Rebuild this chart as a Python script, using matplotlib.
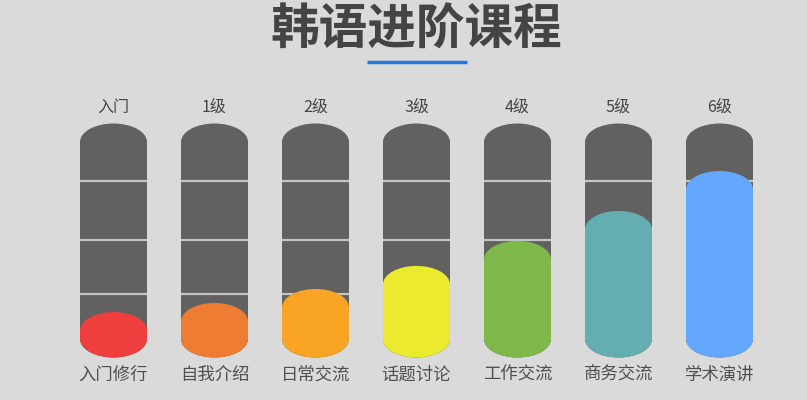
import matplotlib
matplotlib.use("Agg")
import matplotlib.pyplot as plt
from matplotlib.patches import Ellipse

plt.rcParams['font.family'] = ['Noto Sans CJK SC', 'DejaVu Sans']

# ---- data ----
levels = ["入门", "1级", "2级", "3级", "4级", "5级", "6级"]
courses = ["入门修行", "自我介绍", "日常交流", "话题讨论", "工作交流", "商务交流", "学术演讲"]
progress = [4.3, 8.9, 16.0, 27.7, 40.4, 55.6, 75.9]   # percent of tube height
colors = ["#ee3e3e", "#ee7d33", "#f9a423", "#ebea2f", "#7eb84b", "#64aeb2", "#63a7fe"]
title = "韩语进阶课程"
tube_max = 100
dividers = [22.8, 50.3, 80.2]

BG = "#dadada"
TUBE = "#616161"

W, H = 807, 400
fig = plt.figure(figsize=(W / 100, H / 100), dpi=100, facecolor=BG)
ax = fig.add_axes([0, 0, 1, 1])
ax.set_facecolor(BG)
ax.axis("off")

px_x = 101.0           # pixels per category
px_y = 1.97            # pixels per percent
x0_px = 113.5          # pixel x of first category
y0_px = 339.0          # pixel y (from top) of 0%
ax.set_xlim(-x0_px / px_x, (W - x0_px) / px_x)
ax.set_ylim(-(H - y0_px) / px_y, y0_px / px_y)

bw = 67 / px_x          # tube width in data units
eh = 37 / px_y          # cap ellipse height in data units
xs = list(range(len(levels)))

# gray tubes
ax.bar(xs, [tube_max] * len(xs), width=bw, color=TUBE, bottom=0, zorder=1, linewidth=0)
for x in xs:
    ax.add_patch(Ellipse((x, tube_max), bw, eh, color=TUBE, zorder=1, linewidth=0))
    ax.add_patch(Ellipse((x, 0), bw, eh, color=TUBE, zorder=1, linewidth=0))
    for d in dividers:
        ax.plot([x - bw / 2, x + bw / 2], [d, d], color="#c4c4c4", lw=1.6, zorder=2,
                solid_capstyle="butt")

# colored fills
ax.bar(xs, progress, width=bw, color=colors, bottom=0, zorder=3, linewidth=0)
for x, v, c in zip(xs, progress, colors):
    ax.add_patch(Ellipse((x, v), bw, eh, color=c, zorder=3, linewidth=0))
    ax.add_patch(Ellipse((x, 0), bw, eh, color=c, zorder=3, linewidth=0))

# labels
for x, lv, cs in zip(xs, levels, courses):
    ax.text(x, (y0_px - 107) / px_y, lv, ha="center", va="center",
            fontsize=11.5, color="#454545")
    ax.text(x, (y0_px - 375) / px_y, cs, ha="center", va="center",
            fontsize=12.5, color="#4f4f4f")

# title and underline
fig.text(416.5 / W, 1 - 30 / H, title, ha="center", va="center",
         fontsize=35, fontweight="black", color="#444444")
ax.plot([(367 - x0_px) / px_x, (467 - x0_px) / px_x],
        [(y0_px - 62) / px_y] * 2, color="#1e7be6", lw=2.5, solid_capstyle="butt")

fig.savefig("out.png", dpi=100, facecolor=BG)
